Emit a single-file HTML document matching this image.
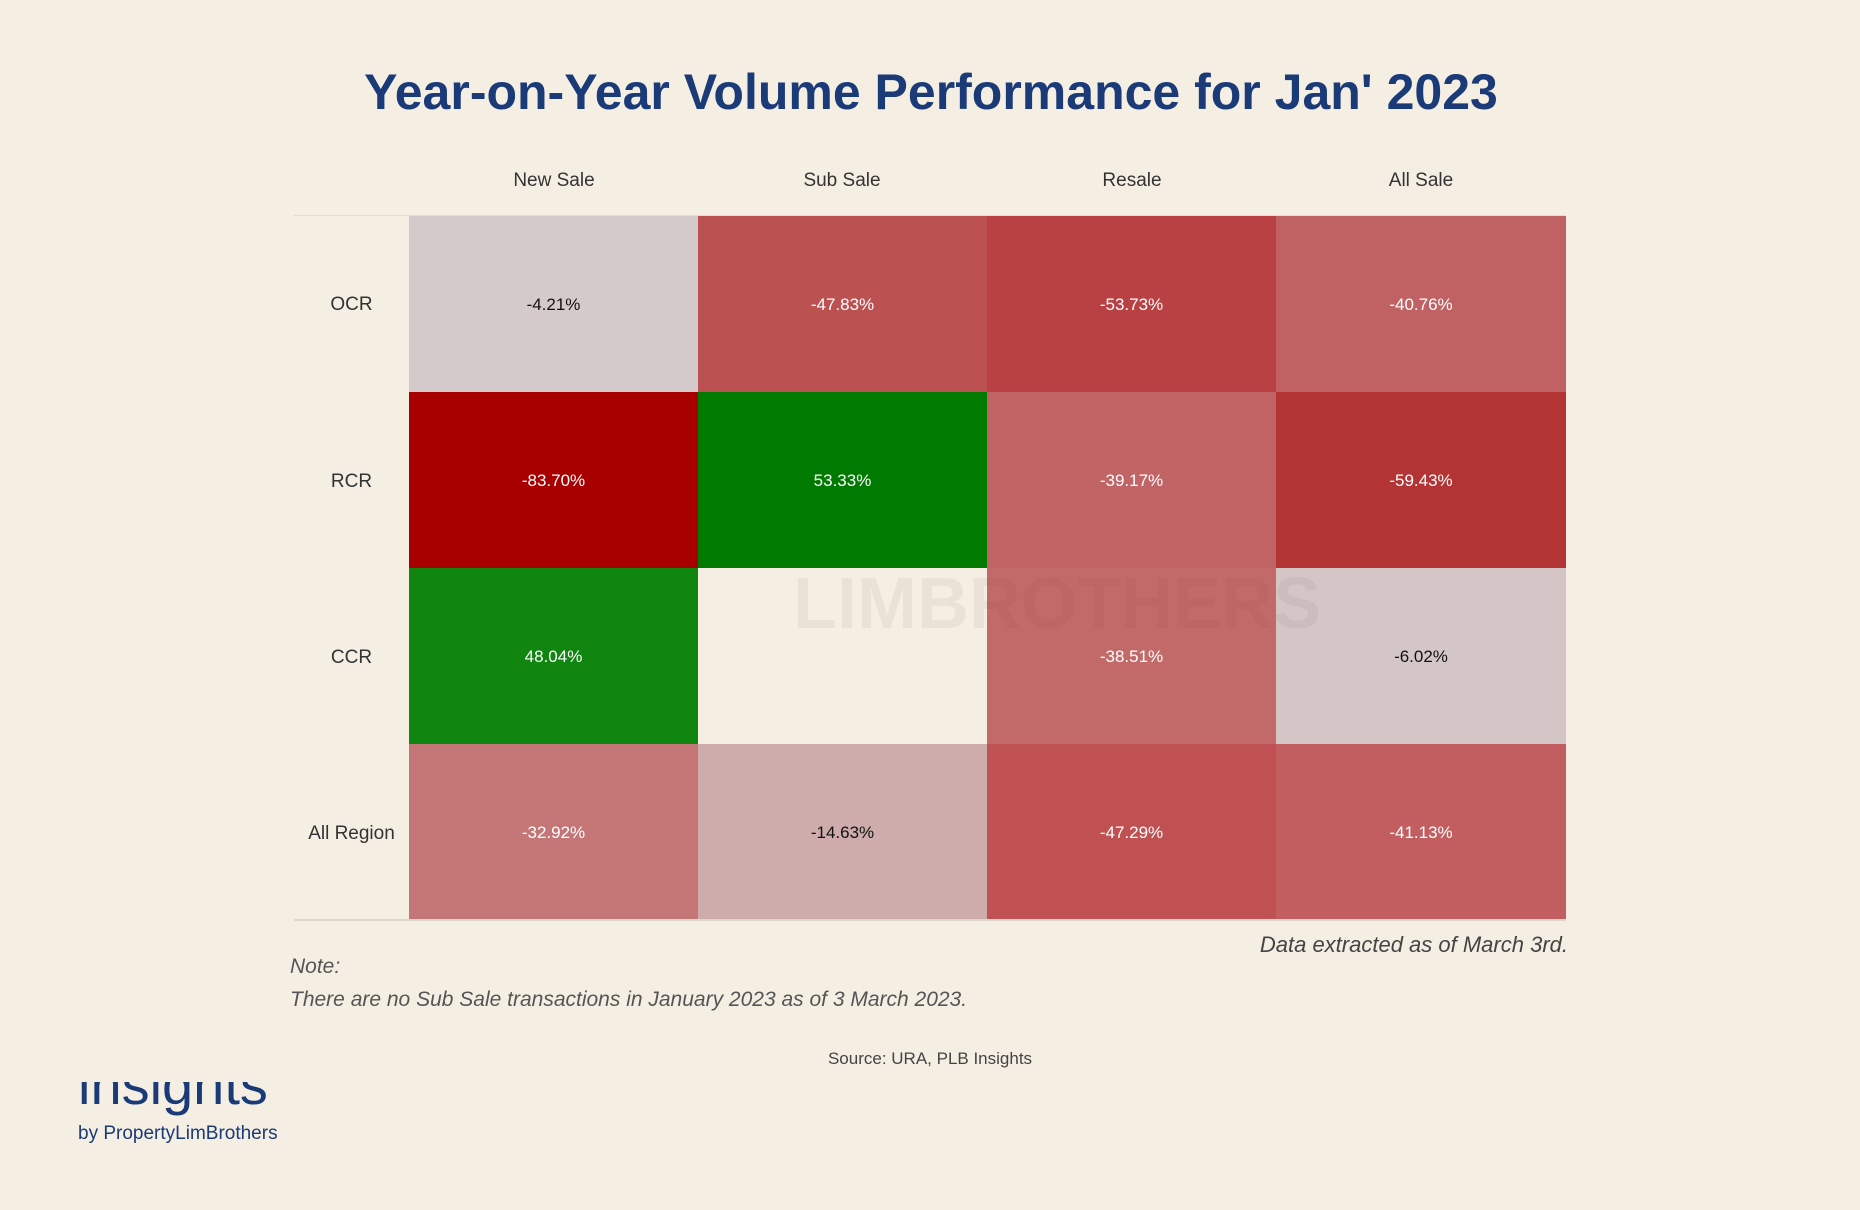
<!DOCTYPE html>
<html><head><meta charset="utf-8"><style>
body{margin:0;width:1860px;height:1210px;background:#f5efe3;position:relative;overflow:hidden;font-family:"Liberation Sans",sans-serif;}
.t{position:absolute;white-space:nowrap;}
.title{left:0;width:1862px;text-align:center;top:63px;font-size:50px;font-weight:bold;color:#1a3a78;}
.ch{top:170px;font-size:19px;color:#333;width:290px;text-align:center;}
.rl{left:294px;width:115px;text-align:center;font-size:19px;color:#333;}
.cell{position:absolute;display:flex;align-items:center;justify-content:center;font-size:17px;color:#fff;padding-top:2px;box-sizing:border-box;}
.dk{color:#111;}
</style></head><body>
<div class="t title">Year-on-Year Volume Performance for Jan' 2023</div>
<div class="t ch" style="left:409px">New Sale</div>
<div class="t ch" style="left:697px">Sub Sale</div>
<div class="t ch" style="left:987px">Resale</div>
<div class="t ch" style="left:1276px">All Sale</div>
<div style="position:absolute;left:294px;top:215px;width:1272px;height:1px;background:#e4ddd3"></div>
<div style="position:absolute;left:294px;top:919px;width:1272px;height:2px;background:#ddd6cc"></div>
<div class="t rl" style="top:294px">OCR</div>
<div class="t rl" style="top:471px">RCR</div>
<div class="t rl" style="top:647px">CCR</div>
<div class="t rl" style="top:823px">All Region</div>
<div class="cell dk" style="left:409px;top:216px;width:289px;height:176px;background:#d4cacb">-4.21%</div>
<div class="cell" style="left:698px;top:216px;width:289px;height:176px;background:#bc5152">-47.83%</div>
<div class="cell" style="left:987px;top:216px;width:289px;height:176px;background:#b94043">-53.73%</div>
<div class="cell" style="left:1276px;top:216px;width:290px;height:176px;background:#c06263">-40.76%</div>
<div class="cell" style="left:409px;top:392px;width:289px;height:176px;background:#a80000">-83.70%</div>
<div class="cell" style="left:698px;top:392px;width:289px;height:176px;background:#007a00">53.33%</div>
<div class="cell" style="left:987px;top:392px;width:289px;height:176px;background:#c06466">-39.17%</div>
<div class="cell" style="left:1276px;top:392px;width:290px;height:176px;background:#b33434">-59.43%</div>
<div class="cell" style="left:409px;top:568px;width:289px;height:176px;background:#108510">48.04%</div>
<div class="cell" style="left:987px;top:568px;width:289px;height:176px;background:#c26a6a">-38.51%</div>
<div class="cell dk" style="left:1276px;top:568px;width:290px;height:176px;background:#d4c6c7">-6.02%</div>
<div class="cell" style="left:409px;top:744px;width:289px;height:175px;background:#c47677">-32.92%</div>
<div class="cell dk" style="left:698px;top:744px;width:289px;height:175px;background:#cfacac">-14.63%</div>
<div class="cell" style="left:987px;top:744px;width:289px;height:175px;background:#bf5152">-47.29%</div>
<div class="cell" style="left:1276px;top:744px;width:290px;height:175px;background:#c25e60">-41.13%</div>
<div class="t" style="left:793px;top:563px;font-size:72px;font-weight:bold;color:rgba(120,60,60,0.07)">LIMBROTHERS</div>
<div class="t" style="right:292px;top:932px;font-size:22px;font-style:italic;color:#444">Data extracted as of March 3rd.</div>
<div class="t" style="left:290px;top:955px;font-size:21px;font-style:italic;color:#555">Note:</div>
<div class="t" style="left:290px;top:988px;font-size:21px;font-style:italic;color:#555">There are no Sub Sale transactions in January 2023 as of 3 March 2023.</div>
<div class="t" style="left:0;width:1860px;text-align:center;top:1049px;font-size:17px;color:#444">Source: URA, PLB Insights</div>
<div style="position:absolute;left:78px;top:1082px;width:220px;height:34px;overflow:hidden">
<div class="t" style="left:0;top:-30px;font-size:56px;color:#1a3a78">insights</div></div>
<div class="t" style="left:78px;top:1123px;font-size:19px;color:#1a3a78">by PropertyLimBrothers</div>
</body></html>
